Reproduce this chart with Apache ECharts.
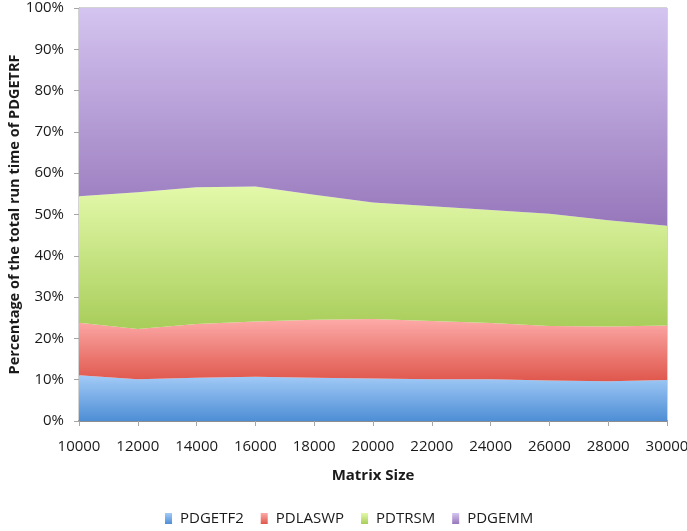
<!DOCTYPE html>
<html>
<head>
<meta charset="utf-8">
<script src="https://cdn.jsdelivr.net/npm/echarts@6/dist/echarts.min.js"></script>
<style>
  html, body { margin: 0; padding: 0; background: #ffffff; }
  #chart { width: 687px; height: 531px; }
</style>
</head>
<body>
<div id="chart"></div>
<script>
// Matrix sizes along the x axis
const matrixSizes = ['10000', '12000', '14000', '16000', '18000', '20000',
                     '22000', '24000', '26000', '28000', '30000'];

// Share (%) of PDGETRF run time spent in each routine
const pdgetf2 = [11.1, 10.1, 10.5, 10.7, 10.5, 10.3, 10.1, 10.1, 9.8, 9.6, 9.9];
const pdlaswp = [12.7, 12.2, 13.0, 13.4, 14.0, 14.4, 14.1, 13.6, 13.2, 13.3, 13.2];
const pdtrsm  = [30.6, 33.1, 33.1, 32.7, 30.3, 28.2, 27.8, 27.4, 27.2, 25.7, 24.2];
const pdgemm  = [45.6, 44.6, 43.4, 43.2, 45.2, 47.1, 48.0, 48.9, 49.8, 51.4, 52.7];

const yTicks = { min: 0, max: 100, interval: 10 };

const FONT = '"Open Sans", "Noto Sans", sans-serif';
const TEXT = '#1a1a1a';

function vGrad(top, bottom) {
  return new echarts.graphic.LinearGradient(0, 0, 0, 1, [
    { offset: 0, color: top },
    { offset: 1, color: bottom }
  ]);
}

function band(name, data, top, bottom) {
  const fill = vGrad(top, bottom);
  return {
    name: name,
    type: 'line',
    stack: 'total',
    data: data,
    symbol: 'none',
    smooth: false,
    lineStyle: { width: 0 },
    itemStyle: { color: fill },
    areaStyle: { color: fill, opacity: 1 }
  };
}

const chart = echarts.init(document.getElementById('chart'), null, { renderer: 'canvas' });

chart.setOption({
  animation: false,
  backgroundColor: '#ffffff',
  grid: {
    left: 79, right: 20, top: 8, bottom: 110,
    outerBoundsMode: 'none',
    containLabel: false,
    show: true, borderColor: '#a6a6a6', borderWidth: 1,
    backgroundColor: 'transparent'
  },
  legend: {
    bottom: 0,
    left: 160,
    icon: 'rect',
    itemWidth: 7,
    itemHeight: 11,
    itemGap: 17,
    textStyle: { fontFamily: FONT, fontSize: 15, color: TEXT, padding: [0, 0, 0, 3] },
    data: ['PDGETF2', 'PDLASWP', 'PDTRSM', 'PDGEMM']
  },
  xAxis: {
    type: 'category',
    data: matrixSizes,
    boundaryGap: false,
    name: 'Matrix Size',
    nameLocation: 'middle',
    nameGap: 47,
    nameTextStyle: { fontFamily: FONT, fontSize: 15, fontWeight: 'bold', color: TEXT },
    axisLine: { lineStyle: { color: '#8c8c8c', width: 2 } },
    axisTick: { show: true, length: 5, inside: false, alignWithLabel: true,
                lineStyle: { color: '#a6a6a6' } },
    axisLabel: { fontFamily: FONT, fontSize: 15, color: TEXT, margin: 18, interval: 0 },
    splitLine: { show: false }
  },
  yAxis: {
    type: 'value',
    min: yTicks.min,
    max: yTicks.max,
    interval: yTicks.interval,
    name: 'Percentage of the total run time of PDGETRF',
    nameLocation: 'middle',
    nameGap: 57,
    nameMoveOverlap: false,
    nameTextStyle: { fontFamily: FONT, fontSize: 14.5, fontWeight: 'bold', color: TEXT },
    axisLine: { show: true, lineStyle: { color: '#a6a6a6' } },
    axisTick: { show: true, length: 5, lineStyle: { color: '#a6a6a6' } },
    axisLabel: { fontFamily: FONT, fontSize: 15, color: TEXT, margin: 15,
                 formatter: '{value}%' },
    splitLine: { show: false }
  },
  series: [
    band('PDGETF2', pdgetf2, '#a3cbf7', '#4e8ed5'),
    band('PDLASWP', pdlaswp, '#fdaaa8', '#df574c'),
    band('PDTRSM',  pdtrsm,  '#e3f9aa', '#a8cd5a'),
    band('PDGEMM',  pdgemm,  '#d4c4f0', '#9777bb')
  ]
});
</script>
</body>
</html>
